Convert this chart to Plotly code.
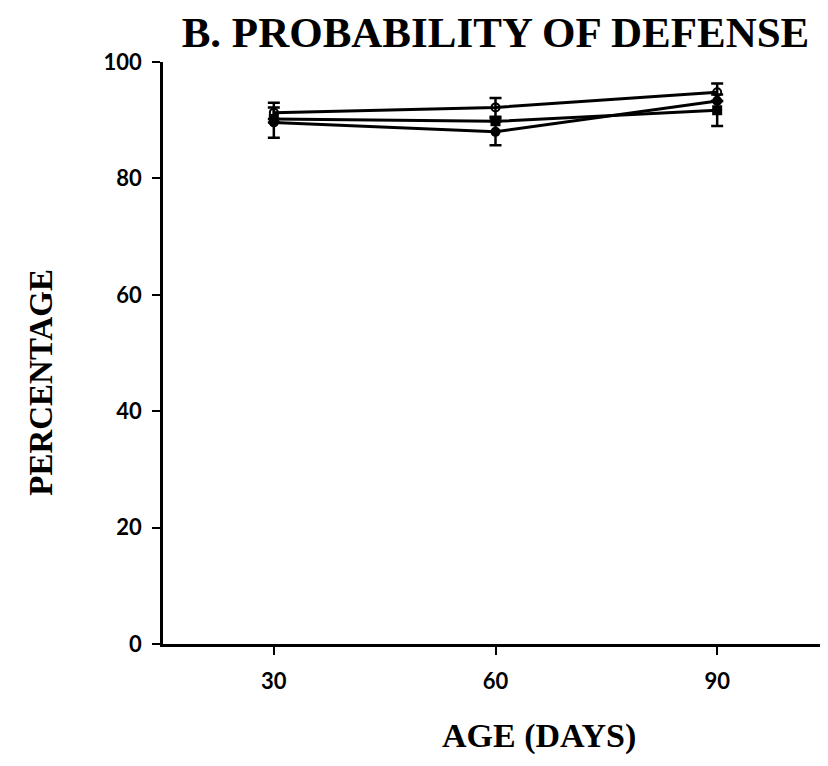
import plotly.graph_objects as go

ages = [30, 60, 90]
open_circle = [91.3, 92.2, 94.8]
open_err = [1.7, 1.6, 1.5]
mid_series = [90.2, 89.8, 91.7]
mid_err = [0.0, 0.0, 2.7]
filled_circle = [89.6, 88.0, 93.3]
filled_err = [2.6, 2.3, 0.0]

y_ticks = [0, 20, 40, 60, 80, 100]
x_ticks = [30, 60, 90]

fig = go.Figure()

def add(y, err, symbol):
    fig.add_trace(go.Scatter(
        x=ages, y=y, mode="lines+markers",
        line=dict(color="black", width=3),
        marker=dict(symbol=symbol, size=8, color="black",
                    line=dict(color="black", width=2)),
        error_y=dict(type="data", array=err, visible=True,
                     color="black", thickness=2.5, width=6),
        showlegend=False,
    ))

add(filled_circle, filled_err, "circle")
add(mid_series, mid_err, "square")
add(open_circle, open_err, "circle-open")

tick_font = dict(family="Lato", size=22, color="black", weight="bold")
serif = "Liberation Serif"

fig.update_layout(
    width=828, height=766,
    paper_bgcolor="white", plot_bgcolor="white",
    margin=dict(l=155, r=8, t=54, b=130, autoexpand=False),
    title=dict(text="<b>B. PROBABILITY OF DEFENSE</b>",
               font=dict(family=serif, size=43, color="black"),
               x=0.5, xref="paper", xanchor="center", y=0.969, yanchor="middle"),
    xaxis=dict(range=[15, 105], tickvals=x_ticks, ticktext=[str(v) for v in x_ticks],
               automargin=False,
               showline=True, linecolor="black", linewidth=2.5,
               ticks="outside", ticklen=8, tickwidth=2, tickcolor="black",
               ticklabelstandoff=8,
               showgrid=False, zeroline=False,
               tickfont=tick_font),
    yaxis=dict(range=[0, 100], tickvals=y_ticks, ticktext=[str(v) for v in y_ticks],
               automargin=False,
               showline=True, linecolor="black", linewidth=2.5,
               ticks="outside", ticklen=8, tickwidth=2, tickcolor="black",
               ticklabelstandoff=6,
               showgrid=False, zeroline=False,
               tickfont=tick_font),
    annotations=[
        dict(text="<b>AGE (DAYS)</b>", xref="paper", yref="paper",
             x=0.565, y=-0.158, xanchor="center", yanchor="middle",
             showarrow=False, font=dict(family=serif, size=34, color="black")),
        dict(text="<b>PERCENTAGE</b>", xref="paper", yref="paper",
             x=-0.184, y=0.45, xanchor="center", yanchor="middle", textangle=-90,
             showarrow=False, font=dict(family=serif, size=33, color="black")),
    ],
)

fig.write_html("out.html")
